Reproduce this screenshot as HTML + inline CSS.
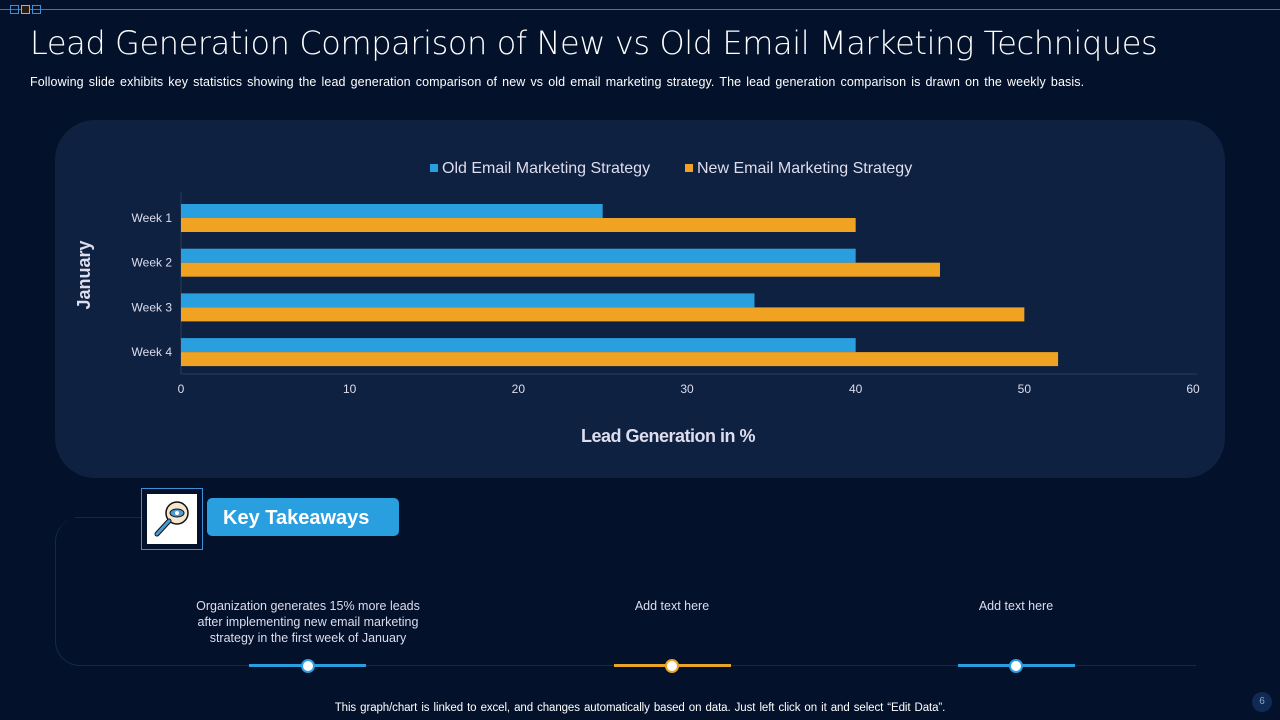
<!DOCTYPE html>
<html><head><meta charset="utf-8"><style>
body{margin:0;width:1280px;height:720px;background:#03112b;overflow:hidden;font-family:"Liberation Sans",sans-serif;position:relative;color:#fff}
.abs{position:absolute}
</style></head><body>
<div class="abs" style="left:0;top:9px;width:1280px;height:1px;background:#5a6f92"></div>
<div class="abs" style="left:10px;top:5px">
<span style="position:absolute;left:0;top:0;width:7px;height:7px;border:1px solid #3d8fd6"></span>
<span style="position:absolute;left:11px;top:0;width:7px;height:7px;border:1px solid #e8a52a;background:#2a1a10"></span>
<span style="position:absolute;left:22px;top:0;width:7px;height:7px;border:1px solid #3d8fd6"></span></div>
<div class="abs" style="left:30px;top:24px;font-size:32px;color:#fff;font-family:'DejaVu Sans','Liberation Sans',sans-serif;font-weight:300;letter-spacing:-0.4px;white-space:nowrap">Lead Generation Comparison of New vs Old Email Marketing Techniques</div>
<div class="abs" style="left:30px;top:75px;font-size:12.5px;word-spacing:1.5px;letter-spacing:0.1px;color:#fff;white-space:nowrap">Following slide exhibits key statistics showing the lead generation comparison of new vs old email marketing strategy. The lead generation comparison is drawn on the weekly basis.</div>
<div class="abs" style="left:55px;top:120px;width:1170px;height:358px;background:#0f2140;border-radius:40px"></div>
<svg class="abs" style="left:0;top:0" width="1280" height="720" id="chart"></svg>
<div class="abs" style="left:55px;top:517px;width:1140px;height:148px;border-left:1px solid #13294a;border-bottom:1px solid #13294a;border-radius:25px 0 0 25px"></div>
<div class="abs" style="left:75px;top:517px;width:66px;height:1px;background:#13294a"></div>
<div class="abs" style="left:141px;top:488px;width:60px;height:60px;border:1px solid #3d8fd6"><div style="position:absolute;left:5px;top:5px;width:50px;height:50px;background:#fff">
<svg width="50" height="50"><circle cx="30" cy="19" r="11" fill="#f5e6d0" stroke="#111" stroke-width="1.5"/><ellipse cx="30" cy="19" rx="7" ry="4" fill="#4a9ad3" stroke="#111"/><circle cx="30" cy="19" r="2" fill="#fff"/><line x1="22" y1="27" x2="10" y2="40" stroke="#111" stroke-width="5" stroke-linecap="round"/><line x1="22" y1="27" x2="10" y2="40" stroke="#4a9ad3" stroke-width="3" stroke-linecap="round"/></svg></div></div>
<div class="abs" style="left:207px;top:498px;width:192px;height:38px;background:#2a9fe0;border-radius:5px;font-weight:bold;font-size:20px;line-height:40px;text-indent:16px">Key Takeaways</div>
<div class="abs" style="left:188px;top:598px;width:240px;text-align:center;font-size:12.5px;line-height:16px;color:#dde">Organization generates 15% more leads after implementing new email marketing strategy in the first week of January</div>
<div class="abs" style="left:572px;top:599px;width:200px;text-align:center;font-size:12.5px;color:#dde">Add text here</div>
<div class="abs" style="left:916px;top:599px;width:200px;text-align:center;font-size:12.5px;color:#dde">Add text here</div>
<div class="abs" style="left:249px;top:664px;width:117px;height:3px;background:#2a9fe0"></div>
<div class="abs" style="left:614px;top:664px;width:117px;height:3px;background:#e8a52a"></div>
<div class="abs" style="left:958px;top:664px;width:117px;height:3px;background:#2a9fe0"></div>
<div class="abs" style="left:301px;top:659px;width:10px;height:10px;border-radius:50%;background:#fff;border:2px solid #2a9fe0"></div>
<div class="abs" style="left:665px;top:659px;width:10px;height:10px;border-radius:50%;background:#fff;border:2px solid #e8a52a"></div>
<div class="abs" style="left:1009px;top:659px;width:10px;height:10px;border-radius:50%;background:#fff;border:2px solid #2a9fe0"></div>
<div class="abs" style="left:0;width:1280px;top:702px;text-align:center;font-size:11.5px;letter-spacing:-0.1px;word-spacing:1px;color:#fff">This graph/chart is linked to excel, and changes automatically based on data. Just left click on it and select “Edit Data”.</div>
<div class="abs" style="left:1252px;top:692px;width:20px;height:20px;border-radius:50%;background:#0f2a55;font-size:10px;text-align:center;line-height:20px;color:#8ab">6</div>
<script>
const categories=["Week 1","Week 2","Week 3","Week 4"];
const oldValues=[25,40,34,40];
const newValues=[40,45,50,52];
const xTicks=[0,10,20,30,40,50,60];
const svg=document.getElementById('chart');const NS='http://www.w3.org/2000/svg';
const x0=181,x1=1193,xMax=60;
function xs(v){return x0+(x1-x0)*v/xMax;}
function yc(i){return 218+i*44.7;}
function mk(t,a,txt){const e=document.createElementNS(NS,t);for(const k in a)e.setAttribute(k,a[k]);if(txt!==undefined)e.textContent=txt;svg.appendChild(e);return e;}
let e=mk('line',{x1:x0,y1:192,x2:x0,y2:374,stroke:'#2a3d5c'});

e=mk('line',{x1:x0,y1:374,x2:1197,y2:374,stroke:'#2a3d5c'});

categories.forEach((c,i)=>{
 e=mk('rect',{x:x0,y:yc(i)-14,width:xs(oldValues[i])-x0,height:14,fill:'#2a9fe0'});
 
 e=mk('rect',{x:x0,y:yc(i),width:xs(newValues[i])-x0,height:14,fill:'#f0a322'});
 
 e=mk('text',{x:172,y:yc(i)+4,'text-anchor':'end','font-size':12,fill:'#dde'},c);
 
});
xTicks.forEach(t=>{e=mk('text',{x:xs(t),y:393,'text-anchor':'middle','font-size':12,fill:'#dde'},t);
 });
e=mk('text',{x:668,y:442,'text-anchor':'middle','font-size':18,'font-weight':'bold','letter-spacing':'-0.5',fill:'#dde'},'Lead Generation in %');

e=mk('text',{x:90,y:275,'text-anchor':'middle','font-size':18,'font-weight':'bold',fill:'#dde',transform:'rotate(-90 90 275)'},'January');

e=mk('rect',{x:430,y:164,width:8,height:8,fill:'#2a9fe0'});
e=mk('text',{x:442,y:173,'font-size':16,fill:'#dde'},'Old Email Marketing Strategy');
e=mk('rect',{x:685,y:164,width:8,height:8,fill:'#f0a322'});
e=mk('text',{x:697,y:173,'font-size':16,fill:'#dde'},'New Email Marketing Strategy');
</script>
</body></html>
